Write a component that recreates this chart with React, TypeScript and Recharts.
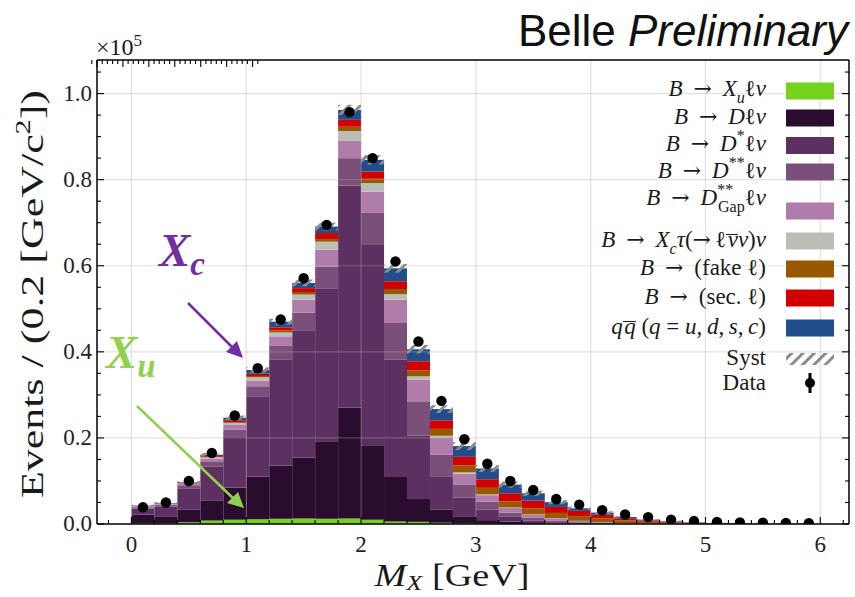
import React from 'react';
import { ComposedChart, Bar, Scatter, XAxis, YAxis, ReferenceLine } from 'recharts';

// bin centres (0.2 GeV bins)
const BIN_CENTERS = [0.1, 0.3, 0.5, 0.7, 0.9, 1.1, 1.3, 1.5, 1.7, 1.9, 2.1, 2.3, 2.5, 2.7, 2.9, 3.1, 3.3, 3.5, 3.7, 3.9, 4.1, 4.3, 4.5, 4.7, 4.9, 5.1, 5.3, 5.5, 5.7, 5.9];

// stacked MC components, units of 1e5 events
const XU = [0.002, 0.002, 0.004, 0.008, 0.010, 0.011, 0.012, 0.013, 0.012, 0.013, 0.010, 0.006, 0.005, 0.003, 0.002, 0.001, 0.0005, 0.0003, 0.0002, 0.0001, 0, 0, 0, 0, 0, 0, 0, 0, 0, 0];
const D = [0.020, 0.016, 0.030, 0.047, 0.074, 0.099, 0.124, 0.141, 0.180, 0.257, 0.173, 0.103, 0.053, 0.031, 0.016, 0.008, 0.005, 0.002, 0.001, 0.0005, 0.0003, 0.0002, 0.0001, 0, 0, 0, 0, 0, 0, 0];
const DSTAR = [0.014, 0.022, 0.049, 0.079, 0.120, 0.187, 0.247, 0.296, 0.356, 0.516, 0.465, 0.273, 0.147, 0.077, 0.043, 0.024, 0.011, 0.006, 0.003, 0.0015, 0.001, 0.0005, 0.0003, 0.0002, 0.0001, 0, 0, 0, 0, 0];
const DSS = [0.003, 0.004, 0.007, 0.010, 0.015, 0.023, 0.032, 0.041, 0.050, 0.064, 0.076, 0.085, 0.080, 0.050, 0.031, 0.019, 0.010, 0.006, 0.004, 0.002, 0.001, 0.0005, 0.0003, 0.0002, 0.0001, 0, 0, 0, 0, 0];
const GAP = [0.002, 0.002, 0.003, 0.008, 0.011, 0.013, 0.021, 0.030, 0.039, 0.040, 0.048, 0.054, 0.050, 0.039, 0.025, 0.015, 0.011, 0.007, 0.005, 0.003, 0.002, 0.001, 0.0005, 0.0003, 0.0002, 0.0001, 0, 0, 0, 0];
const TAU = [0.0005, 0.001, 0.001, 0.003, 0.005, 0.008, 0.009, 0.012, 0.019, 0.023, 0.020, 0.013, 0.008, 0.005, 0.003, 0.002, 0.001, 0.001, 0.0005, 0.0003, 0.0002, 0.0001, 0, 0, 0, 0, 0, 0, 0, 0];
const FAKE = [0.0002, 0.0003, 0.0005, 0.001, 0.002, 0.003, 0.005, 0.006, 0.006, 0.010, 0.010, 0.012, 0.014, 0.016, 0.016, 0.015, 0.014, 0.014, 0.012, 0.011, 0.009, 0.006, 0.004, 0.003, 0.002, 0.0012, 0.0008, 0.0005, 0.0003, 0.0002];
const SEC = [0.0003, 0.0005, 0.001, 0.002, 0.004, 0.005, 0.007, 0.009, 0.014, 0.016, 0.017, 0.018, 0.021, 0.020, 0.020, 0.020, 0.019, 0.018, 0.014, 0.012, 0.008, 0.005, 0.003, 0.002, 0.001, 0.0007, 0.0005, 0.0003, 0.0002, 0.0001];
const QQ = [0.001, 0.001, 0.0015, 0.003, 0.006, 0.009, 0.013, 0.012, 0.015, 0.023, 0.027, 0.030, 0.028, 0.026, 0.025, 0.025, 0.020, 0.017, 0.011, 0.006, 0.005, 0.003, 0.002, 0.001, 0.0005, 0.0004, 0.0003, 0.0002, 0.0001, 0.0001];
// systematic half-width around the stack top
const SYST = [0.002, 0.002, 0.003, 0.004, 0.005, 0.006, 0.007, 0.008, 0.009, 0.012, 0.011, 0.010, 0.010, 0.009, 0.009, 0.008, 0.007, 0.006, 0.005, 0.004, 0.003, 0.002, 0.0015, 0.001, 0.0008, 0.0005, 0.0003, 0.0002, 0.0002, 0.0001];
const DATA = [0.039, 0.050, 0.100, 0.165, 0.252, 0.362, 0.475, 0.571, 0.695, 0.957, 0.850, 0.610, 0.424, 0.286, 0.197, 0.140, 0.100, 0.079, 0.058, 0.045, 0.032, 0.022, 0.016, 0.010, 0.0068, 0.005, 0.0035, 0.003, 0.0025, 0.002];

const X_TICKS = [-0.2, 0, 0.2, 0.4, 0.6, 0.8, 1, 1.2, 1.4, 1.6, 1.8, 2, 2.2, 2.4, 2.6, 2.8, 3, 3.2, 3.4, 3.6, 3.8, 4, 4.2, 4.4, 4.6, 4.8, 5, 5.2, 5.4, 5.6, 5.8, 6, 6.2];
const X_MAJOR = [0, 1, 2, 3, 4, 5, 6];
const Y_TICKS = [0, 0.05, 0.1, 0.15, 0.2, 0.25, 0.3, 0.35, 0.4, 0.45, 0.5, 0.55, 0.6, 0.65, 0.7, 0.75, 0.8, 0.85, 0.9, 0.95, 1.0, 1.05];
const Y_MAJOR = [0, 0.2, 0.4, 0.6, 0.8, 1.0];

const COLORS = {
  xu: '#74d11c',
  d: '#2a0d2e',
  dstar: '#5c3161',
  dss: '#7a4f79',
  gap: '#b07ca9',
  tau: '#bcbdb7',
  fake: '#965900',
  sec: '#d20000',
  qq: '#214d8b',
  syst: '#8c8c8c',
};

const SERIF = '"Liberation Serif", "DejaVu Serif", serif';
const SANS = '"Liberation Sans", Arial, sans-serif';

const rows = BIN_CENTERS.map((x, i) => ({
  x,
  xu: XU[i],
  d: D[i],
  dstar: DSTAR[i],
  dss: DSS[i],
  gap: GAP[i],
  tau: TAU[i],
  fake: FAKE[i],
  sec: SEC[i],
  qq: QQ[i],
  systShift: -SYST[i],
  systBand: 2 * SYST[i],
  data: DATA[i],
}));

const STACK = ['xu', 'd', 'dstar', 'dss', 'gap', 'tau', 'fake', 'sec', 'qq'];

const isIn = (v: number, list: number[]) => list.some(m => Math.abs(m - v) < 1e-6);

const BottomTick = (props: any) => {
  const { x, y, payload } = props;
  const major = isIn(payload.value, X_MAJOR);
  return (
    <g>
      <line x1={x} x2={x} y1={y} y2={y - (major ? 7 : 4)} stroke="#000" strokeWidth={1.1} />
      {major && (
        <text x={x} y={y + 28} textAnchor="middle" fontSize={23} fontFamily={SERIF} fill="#222">
          {payload.value}
        </text>
      )}
    </g>
  );
};

const TopTick = (props: any) => {
  const { x, y, payload } = props;
  const major = isIn(payload.value, X_MAJOR);
  return <line x1={x} x2={x} y1={y} y2={y + (major ? 7 : 4)} stroke="#000" strokeWidth={1.1} />;
};

const LeftTick = (props: any) => {
  const { x, y, payload } = props;
  const major = isIn(payload.value, Y_MAJOR);
  return (
    <g>
      <line x1={x} x2={x + (major ? 7 : 4)} y1={y} y2={y} stroke="#000" strokeWidth={1.1} />
      {major && (
        <text x={x - 5} y={y + 7} textAnchor="end" fontSize={23} fontFamily={SERIF} fill="#222">
          {payload.value.toFixed(1)}
        </text>
      )}
    </g>
  );
};

const RightTick = (props: any) => {
  const { x, y, payload } = props;
  const major = isIn(payload.value, Y_MAJOR);
  return <line x1={x} x2={x - (major ? 7 : 4)} y1={y} y2={y} stroke="#000" strokeWidth={1.1} />;
};

// small html helpers for the legend's math
const I = ({ children }: any) => <i>{children}</i>;
const Sub = ({ children, ml }: any) => <span style={{ fontSize: '0.7em', verticalAlign: '-0.43em', lineHeight: 0, marginLeft: ml }}>{children}</span>;
const Sup = ({ children }: any) => <span style={{ fontSize: '0.7em', verticalAlign: '0.6em', lineHeight: 0 }}>{children}</span>;
const ARROW_STYLE = { fontFamily: '"DejaVu Serif", serif', fontSize: '0.95em' };
const Arr = () => <span style={ARROW_STYLE}>{'\u2002→\u2002'}</span>;
// letter with a bar just above its x-height (in-flow border on a squashed inline-block)
const Ov = ({ children }: any) => (
  <span style={{ display: 'inline-block', fontStyle: 'italic', lineHeight: '0.45em', borderTop: '1.6px solid #1a1a1a', paddingLeft: '0.06em' }}>
    {children}
  </span>
);
const BArr = () => (
  <>
    <I>B</I>
    <Arr />
  </>
);

const LEGEND: { color?: string; kind?: string; cy: number; base: number; label: React.ReactNode }[] = [
  { color: COLORS.xu, cy: 91, base: 97, label: <><BArr /><I>X</I><Sub><I>u</I></Sub>ℓ<I>ν</I></> },
  { color: COLORS.d, cy: 118, base: 125, label: <><BArr /><I>D</I>ℓ<I>ν</I></> },
  { color: COLORS.dstar, cy: 145.5, base: 152, label: <><BArr /><I>D</I><Sup>*</Sup>ℓ<I>ν</I></> },
  { color: COLORS.dss, cy: 172, base: 179, label: <><BArr /><I>D</I><Sup>**</Sup>ℓ<I>ν</I></> },
  { color: COLORS.gap, cy: 211, base: 206, label: <><BArr /><I>D</I><Sup>**</Sup><Sub ml="-0.95em">Gap</Sub>ℓ<I>ν</I></> },
  { color: COLORS.tau, cy: 241, base: 248, label: <><BArr /><I>X</I><Sub><I>c</I></Sub><I>τ</I>(<span style={ARROW_STYLE}>{'→\u2009'}</span>ℓ<Ov>ν</Ov><I>ν</I>)<I>ν</I></> },
  { color: COLORS.fake, cy: 269, base: 276, label: <><BArr />(fake ℓ)</> },
  { color: COLORS.sec, cy: 298, base: 305, label: <><BArr />(sec. ℓ)</> },
  { color: COLORS.qq, cy: 328, base: 335, label: <><I>q</I><Ov>q</Ov>{' ('}<I>q</I>{' = '}<I>u</I>{',\u2009'}<I>d</I>{',\u2009'}<I>s</I>{',\u2009'}<I>c</I>)</> },
  { kind: 'syst', cy: 359, base: 366, label: 'Syst' },
  { kind: 'data', cy: 383, base: 391, label: 'Data' },
];

const FS = 23;

const LegendBox = () => (
  <div style={{ position: 'absolute', left: 0, top: 0, width: 855, height: 597, pointerEvents: 'none', fontFamily: SERIF, color: '#1a1a1a' }}>
    {LEGEND.map((l, k) => (
      <div key={k} style={{ position: 'absolute', right: 89, top: l.base - 19.2, fontSize: FS, lineHeight: '22px', whiteSpace: 'nowrap' }}>
        {l.label}
      </div>
    ))}
  </div>
);

const Overlay = () => (
  <svg width={855} height={597} style={{ position: 'absolute', left: 0, top: 0, pointerEvents: 'none' }}>
    {/* title */}
    <text x={848} y={46} textAnchor="end" fontSize={44} fontFamily={SANS} fill="#111">
      <tspan>Belle </tspan>
      <tspan fontStyle="italic">Preliminary</tspan>
    </text>
    {/* exponent */}
    <text x={96} y={55} fontSize={24} fontFamily={SERIF} fill="#1a1a1a">
      ×10<tspan fontSize={17} dy={-9}>5</tspan>
    </text>
    {/* axis titles */}
    <text transform="translate(43 294) rotate(-90)" textAnchor="middle" fontSize={32} fontFamily={SERIF} fill="#1a1a1a" textLength={408} lengthAdjust="spacingAndGlyphs">
      Events / (0.2 [GeV/c<tspan fontSize={22} dy={-13}>2</tspan><tspan dy={13}>])</tspan>
    </text>
    <text x={452} y={586} textAnchor="middle" fontSize={32} fontFamily={SERIF} fill="#1a1a1a" textLength={155} lengthAdjust="spacingAndGlyphs">
      <tspan fontStyle="italic">M</tspan>
      <tspan fontStyle="italic" fontSize={22} dy={4}>X</tspan>
      <tspan dy={-4}> [GeV]</tspan>
    </text>
    {/* legend swatches */}
    {LEGEND.map((l, k) => (
      <g key={k}>
        {l.color && <rect x={786} y={l.cy - 8.5} width={48} height={17} fill={l.color} />}
        {l.kind === 'syst' && <rect x={786} y={l.cy - 6} width={48} height={12} fill="url(#hatch)" />}
        {l.kind === 'data' && (
          <g>
            <line x1={810} x2={810} y1={l.cy - 10} y2={l.cy + 10} stroke="#000" strokeWidth={3} />
            <circle cx={810} cy={l.cy} r={5} fill="#000" />
          </g>
        )}
      </g>
    ))}
    {/* annotations */}
    <text x={159} y={266} fontSize={47} fontWeight="bold" fontStyle="italic" fontFamily={SERIF} fill="#7030a0">
      X<tspan fontSize={33} dy={9}>c</tspan>
    </text>
    <line x1={188} y1={303} x2={234} y2={349} stroke="#7030a0" strokeWidth={2.5} />
    <polygon points="243,358 226,352 237,341" fill="#7030a0" />
    <text x={106} y={368} fontSize={47} fontWeight="bold" fontStyle="italic" fontFamily={SERIF} fill="#92d050">
      X<tspan fontSize={33} dy={9}>u</tspan>
    </text>
    <line x1={137} y1={406} x2={235} y2={500} stroke="#92d050" strokeWidth={2.5} />
    <polygon points="244,508 227,503 238,492" fill="#92d050" />
  </svg>
);

export default function App() {
  return (
    <div style={{ position: 'absolute', left: 0, top: 0, width: 855, height: 597, background: '#fff' }}>
      <ComposedChart width={855} height={597} data={rows} margin={{ top: 50, right: 1, bottom: 33, left: 37 }} barCategoryGap={0} barGap={0}>
        <defs>
          <pattern id="hatch" patternUnits="userSpaceOnUse" width={8} height={8} patternTransform="rotate(45)">
            <rect x={0} y={0} width={3} height={8} fill={COLORS.syst} />
          </pattern>
        </defs>
        <XAxis dataKey="x" type="number" domain={[-0.3, 6.25]} ticks={X_TICKS} interval={0} height={40} tickSize={0} tickMargin={0} tickLine={false} tick={<BottomTick />} axisLine={{ stroke: '#000', strokeWidth: 1.5 }} allowDataOverflow />
        <XAxis xAxisId="top" orientation="top" type="number" domain={[-0.3, 6.25]} ticks={X_TICKS} interval={0} height={10} tickSize={0} tickMargin={0} tickLine={false} tick={<TopTick />} axisLine={{ stroke: '#000', strokeWidth: 1.5 }} allowDataOverflow />
        <YAxis type="number" domain={[0, 1.078]} ticks={Y_TICKS} interval={0} width={60} tickSize={0} tickMargin={0} tickLine={false} tick={<LeftTick />} axisLine={{ stroke: '#000', strokeWidth: 1.5 }} allowDataOverflow />
        <YAxis yAxisId="right" orientation="right" type="number" domain={[0, 1.078]} ticks={Y_TICKS} interval={0} width={5} tickSize={0} tickMargin={0} tickLine={false} tick={<RightTick />} axisLine={{ stroke: '#000', strokeWidth: 1.5 }} allowDataOverflow />
        {STACK.map(k => (
          <Bar key={k} dataKey={k} stackId="mc" fill={(COLORS as any)[k]} isAnimationActive={false} />
        ))}
        <Bar dataKey="systShift" stackId="mc" fill="none" isAnimationActive={false} />
        <Bar dataKey="systBand" stackId="mc" fill="url(#hatch)" isAnimationActive={false} />
        {X_MAJOR.map(v => (
          <ReferenceLine key={'gx' + v} x={v} stroke="#a8a8a8" strokeOpacity={0.35} strokeWidth={1.2} />
        ))}
        {Y_MAJOR.slice(1).map(v => (
          <ReferenceLine key={'gy' + v} y={v} stroke="#a8a8a8" strokeOpacity={0.35} strokeWidth={1.2} />
        ))}
        <Scatter dataKey="data" fill="#000" isAnimationActive={false} shape={(p: any) => <circle cx={p.cx} cy={p.cy} r={5.2} fill="#000" />} />
      </ComposedChart>
      <Overlay />
      <LegendBox />
    </div>
  );
}
